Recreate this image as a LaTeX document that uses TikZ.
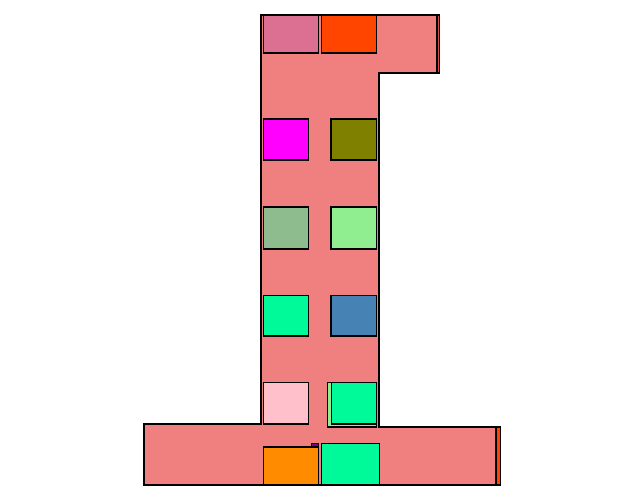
\documentclass[tikz,border=0pt]{standalone}
\usepackage{tikz}
\usetikzlibrary{positioning}
\definecolor{FloorCoral}{RGB}{240,128,128}
\definecolor{RedOrange}{RGB}{255,69,0}
\definecolor{VioletPink}{RGB}{219,112,147}
\definecolor{SpringGreen}{RGB}{0,250,154}
\definecolor{PaleGreen}{RGB}{144,238,144}
\definecolor{SeaGreen}{RGB}{143,188,143}
\definecolor{SteelBlue}{RGB}{70,130,180}
\definecolor{OliveTone}{RGB}{128,128,0}
\definecolor{DarkOrange}{RGB}{255,140,0}
\definecolor{SoftPink}{RGB}{255,192,203}
\definecolor{StripRed}{RGB}{225,75,75}
\definecolor{Fuchsia}{RGB}{255,0,255}
\definecolor{PlumDark}{RGB}{128,0,128}
\tikzset{
  floor/.style={draw=black,fill=FloorCoral,line width=1.1pt,line join=miter},
  room/.style={draw=black,line width=1.1pt},
}
\begin{document}
\begin{tikzpicture}[x=1pt,y=-1pt]
\useasboundingbox (0,0) rectangle (640,500);
% outline
\draw[floor] (261,15)--(437,15)--(437,73)--(379,73)--(379,427)--(496,427)--(496,485)--(144,485)--(144,424)--(261,424)--cycle;
\draw[room,fill=StripRed] (437,15) rectangle (439.5,73);\draw[room,fill=RedOrange] (496,427) rectangle (500.5,485);
% top row
\draw[room,fill=VioletPink] (263.5,15) rectangle (318.5,53);\draw[room,fill=RedOrange] (321.5,15) rectangle (376.5,53);
% stem rooms
\draw[room,fill=Fuchsia] (263.5,119) rectangle (308.5,160);\draw[room,fill=OliveTone] (331,119) rectangle (376.5,160);
\draw[room,fill=SeaGreen] (263.5,207) rectangle (308.5,249);\draw[room,fill=PaleGreen] (331,207) rectangle (376.5,249);
\draw[room,fill=SpringGreen] (263.5,295.5) rectangle (308.5,336);\draw[room,fill=SteelBlue] (331,295.5) rectangle (376.5,336);
\draw[room,fill=SoftPink] (263.5,382.5) rectangle (308.5,424);
\draw[room,fill=PaleGreen] (327.8,382.5) rectangle (376.5,427);\draw[room,fill=SpringGreen] (331.7,382.5) rectangle (376.5,424);
% base
\draw[room,fill=PlumDark] (311.7,443.5) rectangle (318.3,447);
\draw[room,fill=DarkOrange] (263.5,447) rectangle (318.3,485);\draw[room,fill=SpringGreen] (321.7,443.5) rectangle (379.3,485);
\end{tikzpicture}
\end{document}
